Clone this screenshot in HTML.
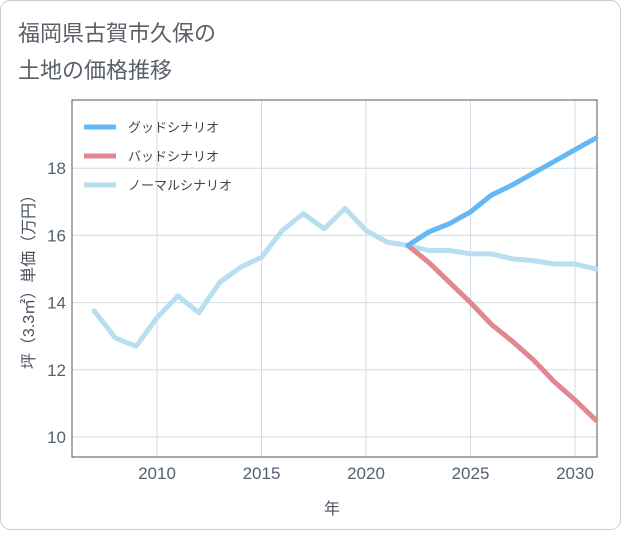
<!DOCTYPE html>
<html><head><meta charset="utf-8"><style>
body{margin:0;background:#fff;font-family:"Liberation Sans","Noto Sans CJK JP",sans-serif;}
#wrap{position:relative;width:621px;height:530px;}
</style></head><body>
<div id="wrap">
<svg id="chart" width="621" height="530" xmlns="http://www.w3.org/2000/svg">
<rect x="0.5" y="0.5" width="620" height="529" rx="10" fill="#fff" stroke="#ccc"/>
<text x="18" y="41" font-size="22" fill="#5a6068">福岡県古賀市久保の</text>
<text x="18" y="78" font-size="22" fill="#5a6068">土地の価格推移</text>
<g id="grid"></g>
<rect x="72" y="100" width="525" height="357" fill="none" stroke="#555" stroke-width="1"/>
<g id="series"></g>
<g id="legend"></g>
<text x="332" y="514" font-size="16" fill="#4a5260" text-anchor="middle">年</text>
<text transform="translate(34,278) rotate(-90)" font-size="16" fill="#4a5260" text-anchor="middle">坪（3.3㎡）単価（万円）</text>
</svg>
</div>
<script>
const years=[2007,2008,2009,2010,2011,2012,2013,2014,2015,2016,2017,2018,2019,2020,2021,2022,2023,2024,2025,2026,2027,2028,2029,2030,2031];
const normalValues=[13.75,12.95,12.7,13.55,14.2,13.7,14.6,15.05,15.35,16.15,16.65,16.2,16.8,16.15,15.8,15.7,15.55,15.55,15.45,15.45,15.3,15.25,15.15,15.15,15.0];
const futureYears=[2022,2023,2024,2025,2026,2027,2028,2029,2030,2031];
const goodValues=[15.7,16.1,16.35,16.7,17.2,17.5,17.85,18.2,18.55,18.9];
const badValues=[15.7,15.2,14.6,14.0,13.35,12.85,12.3,11.65,11.1,10.5];
const xTicks=[2010,2015,2020,2025,2030];
const yTicks=[10,12,14,16,18];
const legendLabels=["グッドシナリオ","バッドシナリオ","ノーマルシナリオ"];
const NS="http://www.w3.org/2000/svg";
const X=y=>157+(y-2010)*20.9;
const Y=v=>437-(v-10)*33.6;
function mk(tag,attrs,parent){const e=document.createElementNS(NS,tag);for(const k in attrs)e.setAttribute(k,attrs[k]);parent.appendChild(e);return e;}
const grid=document.getElementById('grid');
xTicks.forEach(t=>{
 const l=mk('line',{x1:X(t),x2:X(t),y1:100,y2:457,stroke:'#d0dbe6'},grid);
 
 
 const tx=mk('text',{x:X(t),y:479,'font-size':17,fill:'#556070','text-anchor':'middle'},grid);
 tx.textContent=t;
 
 
});
yTicks.forEach(t=>{
 const l=mk('line',{x1:72,x2:597,y1:Y(t),y2:Y(t),stroke:'#d0dbe6'},grid);
 
 
 const tx=mk('text',{x:66,y:Y(t)+6,'font-size':17,fill:'#556070','text-anchor':'end'},grid);
 tx.textContent=t;
 
 
});
const ser=document.getElementById('series');
function line(xs,vs,color,name){
 const d=xs.map((x,i)=>(i?'L':'M')+X(x).toFixed(1)+','+Y(vs[i]).toFixed(1)).join(' ');
 const p=mk('path',{d:d,fill:'none',stroke:color,'stroke-width':5,'stroke-linejoin':'round','stroke-linecap':'round'},ser);
 
 
}
line(years,normalValues,'#b8dff0','normal-scenario-line');
line(futureYears,badValues,'#e08890','bad-scenario-line');
line(futureYears,goodValues,'#63b8f5','good-scenario-line');
const colors=['#63b8f5','#e08890','#b8dff0'];
const lg=document.getElementById('legend');
legendLabels.forEach((lab,i)=>{
 const y=127+i*29;
 const l=mk('line',{x1:84,x2:116,y1:y,y2:y,stroke:colors[i],'stroke-width':5},lg);
 
 
 const t=mk('text',{x:128,y:y+5,'font-size':13,fill:'#444'},lg);
 t.textContent=lab;
 
 
});
</script>
</body></html>
